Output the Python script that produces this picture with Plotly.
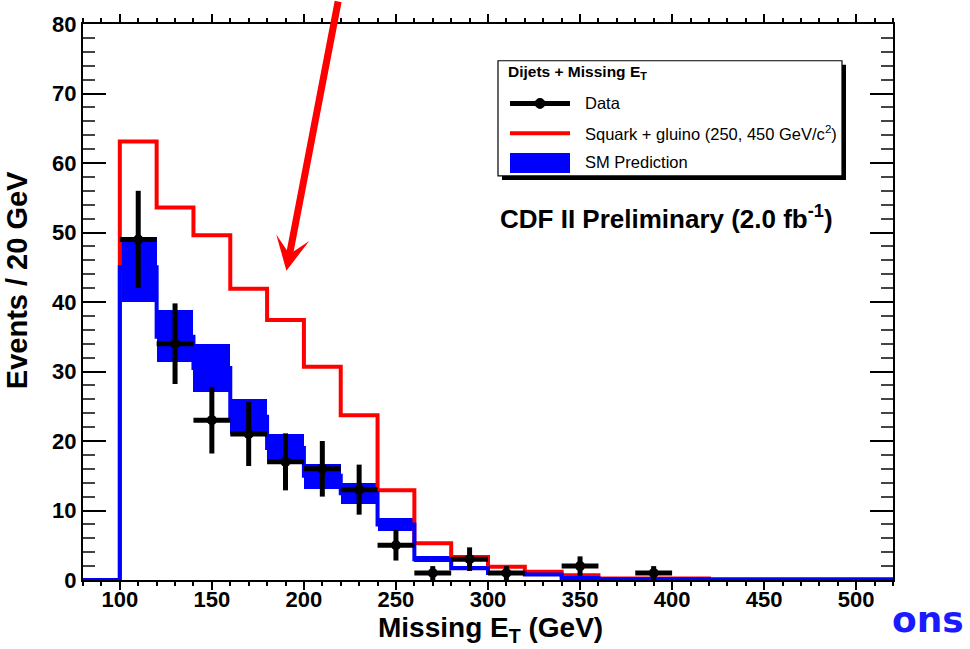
import plotly.graph_objects as go

# ---------------- data ----------------
bin_edges = [80, 100, 120, 140, 160, 180, 200, 220, 240, 260, 280, 300,
             320, 340, 360, 380, 400, 420, 440, 460, 480, 500, 520]
sm_center = [0, 45, 35, 30.5, 23.5, 19, 15, 12.5, 8, 3.0, 1.7, 1.0,
             0.8, 0.3, 0.1, 0.1, 0.1, 0.1, 0.1, 0.1, 0.1, 0.1]
sm_low = [0, 40.0, 31.4, 27.1, 21.0, 17.1, 13.1, 11.0, 7.1, 2.6, 1.4, 0.8,
          0.6, 0.2, 0.05, 0.05, 0.05, 0.05, 0.05, 0.05, 0.05, 0.05]
sm_high = [0, 49.4, 38.9, 33.9, 26.0, 21.0, 16.7, 13.9, 8.9, 3.4, 2.0, 1.2,
           1.0, 0.4, 0.15, 0.15, 0.15, 0.15, 0.15, 0.15, 0.15, 0.15]
susy = [0, 63.1, 53.6, 49.6, 41.9, 37.4, 30.7, 23.7, 12.9, 5.3, 3.3, 1.9,
        1.2, 0.7, 0.2, 0.2, 0.2, 0, 0, 0, 0, 0]

data_x = [110, 130, 150, 170, 190, 210, 230, 250, 270, 290, 310, 350, 390]
data_y = [49, 34, 23, 21, 17, 16, 13, 5, 1, 3, 1, 2, 1]
data_err = [7.0, 5.8, 4.8, 4.6, 4.1, 4.0, 3.6, 2.2, 1.0, 1.7, 1.0, 1.4, 1.0]
data_xerr = [10] * len(data_x)

x_ticks = [100, 150, 200, 250, 300, 350, 400, 450, 500]
y_ticks = [0, 10, 20, 30, 40, 50, 60, 70, 80]

bin_centers = [(a + b) / 2 for a, b in zip(bin_edges[:-1], bin_edges[1:])]
bin_widths = [b - a for a, b in zip(bin_edges[:-1], bin_edges[1:])]

# ---------------- layout geometry helpers (pixels -> paper) ----------------
W, H = 970, 649
L, R, T, B = 83, 893, 20, 580


def px(x):
    return (x - L) / (R - L)


def py(y):
    return (B - y) / (B - T)


fig = go.Figure()

# SUSY (red) histogram
fig.add_trace(go.Scatter(
    x=bin_edges, y=susy + [susy[-1]], mode="lines", line_shape="hv",
    line=dict(color="#ff0000", width=4), name="Squark + gluino",
    showlegend=False, hoverinfo="skip"))

# SM band (blue boxes)
fig.add_trace(go.Bar(
    x=bin_centers, y=[h - l for h, l in zip(sm_high, sm_low)], base=sm_low,
    width=bin_widths, marker=dict(color="#0000ff", line=dict(width=0)),
    name="SM Prediction", showlegend=False, hoverinfo="skip"))

# SM central line
fig.add_trace(go.Scatter(
    x=bin_edges, y=sm_center + [sm_center[-1]], mode="lines", line_shape="hv",
    line=dict(color="#0000ff", width=4), showlegend=False, hoverinfo="skip"))

# Data
fig.add_trace(go.Scatter(
    x=data_x, y=data_y, mode="markers", name="Data",
    marker=dict(color="black", size=10, symbol="circle"),
    error_y=dict(type="data", array=data_err, color="black", thickness=5, width=0),
    error_x=dict(type="data", array=data_xerr, color="black", thickness=5, width=0),
    showlegend=False, hoverinfo="skip"))

tickfont = dict(family="Liberation Sans", size=22, color="black", weight="bold")

fig.update_layout(
    width=W, height=H,
    margin=dict(l=L, r=W - R, t=T, b=H - B, pad=0),
    paper_bgcolor="white", plot_bgcolor="white",
    bargap=0,
    xaxis=dict(range=[80, 520], tickvals=x_ticks, ticktext=[str(v) for v in x_ticks],
               ticks="outside", ticklen=8, tickwidth=1.5, tickcolor="black",
               minor=dict(dtick=10, tick0=0, ticks="outside", ticklen=4,
                          tickwidth=1.5, tickcolor="black"),
               showline=True, linecolor="black", linewidth=2, mirror="ticks",
               showgrid=False, zeroline=False, tickfont=tickfont,
               ticklabelstandoff=-9, layer="below traces"),
    yaxis=dict(range=[0, 80], tickvals=y_ticks, ticktext=[str(v) for v in y_ticks],
               ticks="inside", ticklen=23, tickwidth=1.5, tickcolor="black",
               minor=dict(dtick=2, tick0=0, ticks="inside", ticklen=12,
                          tickwidth=1.5, tickcolor="#444444"),
               showline=True, linecolor="black", linewidth=2, mirror="ticks",
               showgrid=False, zeroline=False, tickfont=tickfont),
    showlegend=False,
)

# ---------------- legend box (drawn manually) ----------------
shapes = []
shapes.append(dict(type="rect", xref="paper", yref="paper",
                   x0=px(502), x1=px(846), y0=py(177), y1=py(61),
                   fillcolor="black", line=dict(width=0), layer="above"))
shapes.append(dict(type="rect", xref="paper", yref="paper",
                   x0=px(498), x1=px(842), y0=py(173), y1=py(57),
                   fillcolor="white", line=dict(color="black", width=1.2), layer="above"))
# Data symbol
shapes.append(dict(type="line", xref="paper", yref="paper",
                   x0=px(510), x1=px(570), y0=py(100), y1=py(100),
                   line=dict(color="black", width=5), layer="above"))
shapes.append(dict(type="circle", xref="paper", yref="paper",
                   x0=px(535), x1=px(545), y0=py(105), y1=py(95),
                   fillcolor="black", line=dict(color="black", width=1), layer="above"))
# Squark symbol
shapes.append(dict(type="line", xref="paper", yref="paper",
                   x0=px(510), x1=px(570), y0=py(130), y1=py(130),
                   line=dict(color="#ff0000", width=4), layer="above"))
# SM symbol
shapes.append(dict(type="rect", xref="paper", yref="paper",
                   x0=px(510), x1=px(570), y0=py(170), y1=py(150),
                   fillcolor="#0000ff", line=dict(width=0), layer="above"))
fig.update_layout(shapes=shapes)

legfont = dict(family="Liberation Sans", size=16.5, color="black")
ann = []
ann.append(dict(xref="paper", yref="paper", x=px(506), y=py(69), xanchor="left",
                yanchor="middle", showarrow=False,
                text="<b>Dijets + Missing E<sub>T</sub></b>",
                font=dict(family="Liberation Sans", size=15.5, color="black")))
ann.append(dict(xref="paper", yref="paper", x=px(583), y=py(100), xanchor="left",
                yanchor="middle", showarrow=False, text="Data", font=legfont))
ann.append(dict(xref="paper", yref="paper", x=px(583), y=py(130), xanchor="left",
                yanchor="middle", showarrow=False,
                text="Squark + gluino (250, 450 GeV/c<sup>2</sup>)", font=legfont))
ann.append(dict(xref="paper", yref="paper", x=px(583), y=py(159), xanchor="left",
                yanchor="middle", showarrow=False, text="SM Prediction", font=legfont))

# CDF label
ann.append(dict(xref="paper", yref="paper", x=px(666), y=py(215), xanchor="center",
                yanchor="middle", showarrow=False,
                text="<b>CDF II Preliminary (2.0 fb<sup>-1</sup>)</b>",
                font=dict(family="Liberation Sans", size=26, color="black")))

# axis titles
ann.append(dict(xref="paper", yref="paper", x=px(490), y=py(630), xanchor="center",
                yanchor="middle", showarrow=False,
                text="<b>Missing E<sub>T</sub> (GeV)</b>",
                font=dict(family="Liberation Sans", size=28, color="black")))
ann.append(dict(xref="paper", yref="paper", x=px(17), y=py(278), xanchor="center",
                yanchor="middle", showarrow=False, textangle=-90,
                text="<b>Events / 20 GeV</b>",
                font=dict(family="Liberation Sans", size=29, color="black")))

# red arrow
ann.append(dict(xref="x", yref="y", x=190.5, y=44.5, ax=52, ay=-275,
                axref="pixel", ayref="pixel", text="", showarrow=True,
                arrowhead=3, arrowsize=0.8, arrowwidth=7, arrowcolor="#ff0000"))

# partial slide text
ann.append(dict(xref="paper", yref="paper", x=px(966), y=py(620), xanchor="right",
                yanchor="middle", showarrow=False, text="<b>ons</b>",
                font=dict(family="DejaVu Sans", size=36, color="#1a1aff")))

fig.update_layout(annotations=ann)

fig.write_html("out.html")
